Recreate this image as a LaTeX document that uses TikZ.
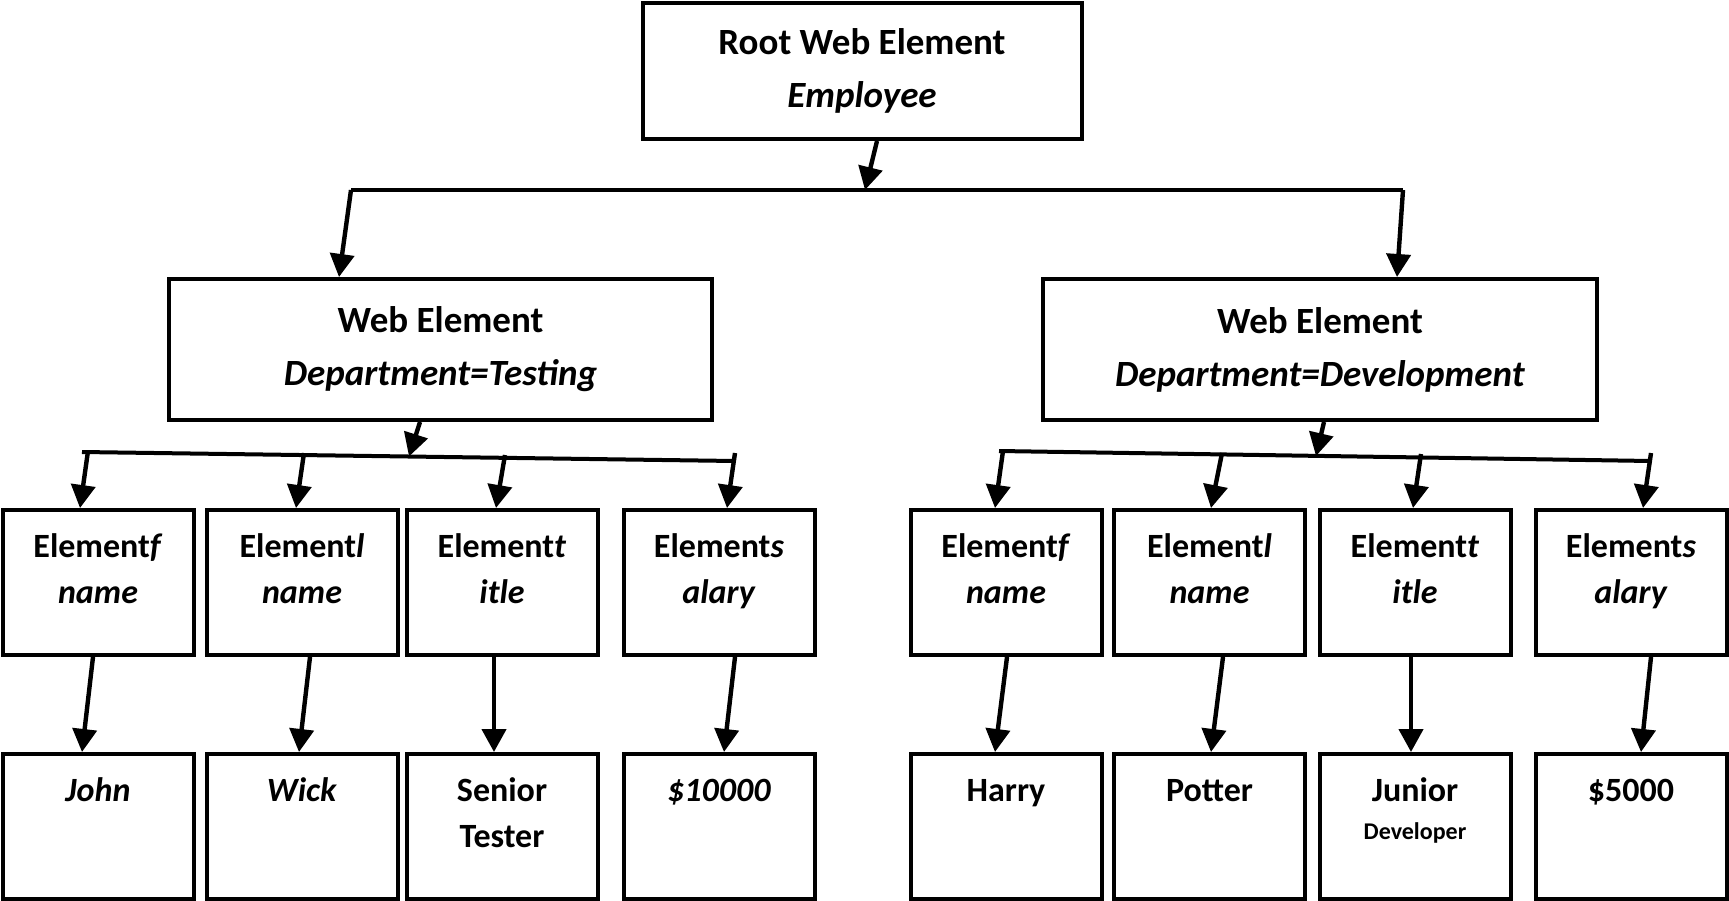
\documentclass[tikz,border=0pt]{standalone}
\usepackage{fontspec}
\setmainfont{Carlito}
\usetikzlibrary{arrows.meta}

\tikzset{
  kasten/.style={draw, line width=2pt, align=center, inner sep=0pt,
    font=\bfseries\fontsize{18.5}{26.5}\selectfont},
  zelle/.style={draw, line width=2pt, anchor=north, minimum width=95.5pt,
    text width=92pt, align=center, inner sep=0pt, text height=23.5pt,
    text depth=49pt, font=\bfseries\fontsize{17}{23}\selectfont},
  pfeil/.style={line width=2.2pt, -{Triangle[length=11.5pt,width=12pt]}},
  linie/.style={line width=2pt},
}

\begin{document}
\begin{tikzpicture}[x=0.5pt,y=-0.5pt]
\useasboundingbox (0,0) rectangle (1729,900);

% Wurzel
\node[kasten, minimum width=219.5pt, minimum height=68pt] (wurzel) at (862,71)
  {Root Web Element\\\textit{Employee}};

% Abteilungen
\node[kasten, minimum width=271.5pt, minimum height=70.5pt] (test) at (440.5,349.5)
  {Web Element\\\textit{Department=Testing}};
\node[kasten, minimum width=277pt, minimum height=70.5pt] (dev) at (1320,349.5)
  {Web Element\\\textit{Department=Development}};

% Elemente
\foreach \n/\x/\t in {1/98/{Element\textit{f}\\\textit{name}},
                      2/302/{Element\textit{l}\\\textit{name}},
                      3/502/{Element\textit{t}\\\textit{itle}},
                      4/719/{Element\textit{s}\\\textit{alary}},
                      5/1006/{Element\textit{f}\\\textit{name}},
                      6/1209.5/{Element\textit{l}\\\textit{name}},
                      7/1415/{Element\textit{t}\\\textit{itle}},
                      8/1631/{Element\textit{s}\\\textit{alary}}}
  \node[zelle] (e\n) at (\x,508) {\t};

% Werte
\foreach \n/\x/\t in {1/98/\textit{John},
                      2/302/\textit{Wick},
                      3/502/{Senior\\Tester},
                      4/719/\textit{\$10000},
                      5/1006/Harry,
                      6/1209.5/Potter,
                      7/1415/{Junior\\[-4pt]{\fontsize{12}{14}\selectfont Developer}},
                      8/1631/\$5000}
  \node[zelle] (w\n) at (\x,752) {\t};

% Verbindungen oben
\coordinate (bl) at (351,190);
\coordinate (bm) at (865,190);
\coordinate (br) at (1403,190);
\draw[pfeil] ([xshift=7.5pt]wurzel.south) -- (bm);
\draw[linie] (bl) -- (br);
\draw[pfeil] (bl) -- ([xshift=-50.75pt]test.north);
\draw[pfeil] (br) -- ([xshift=38.5pt]dev.north);

% Verteiler unten
\coordinate (lb0) at (82,452);
\coordinate (lb1) at (735,461);
\coordinate (rb0) at (999,451);
\coordinate (rb1) at (1651,461);
\coordinate (lm) at (409,456.5);
\coordinate (rm) at (1316,456);
\draw[linie] (lb0) -- (lb1);
\draw[linie] (rb0) -- (rb1);
\draw[pfeil] ([xshift=-10.25pt]test.south) -- (lm);
\draw[pfeil] ([xshift=2pt]dev.south) -- (rm);

\foreach \n/\x/\y/\d in {1/88/451/-9pt, 2/304/453/-3pt, 3/505/455/-3pt, 4/735/453/4pt,
                         5/1003/451/-5.5pt, 6/1222/453/0.75pt, 7/1421/454/-1pt, 8/1651/453/6pt}
{
  \coordinate (a\n) at (\x,\y);
  \draw[pfeil] (a\n) -- ([xshift=\d]e\n.north);
}

% Elemente -> Werte
\foreach \n/\a/\b in {1/-2.5pt/-8pt, 2/4pt/-1.5pt, 3/-4pt/-4pt, 4/8pt/2.5pt,
                      5/0.5pt/-5.5pt, 6/6.75pt/0.75pt, 7/-2pt/-2pt, 8/10pt/5pt}
  \draw[pfeil] ([xshift=\a]e\n.south) -- ([xshift=\b]w\n.north);
\end{tikzpicture}
\end{document}
